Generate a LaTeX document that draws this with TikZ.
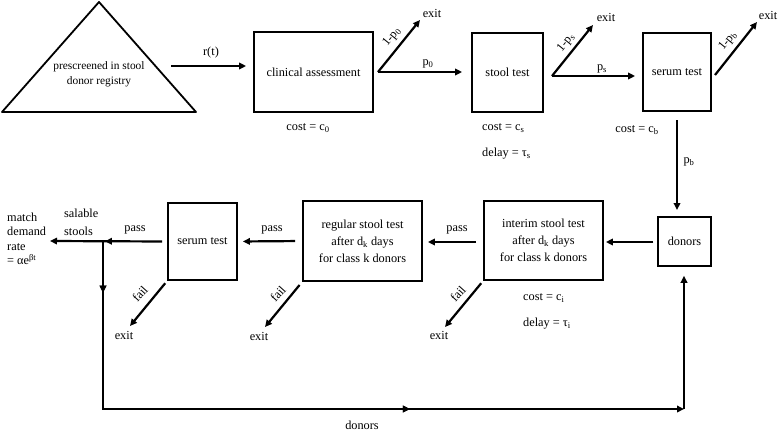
\documentclass[tikz,border=0pt]{standalone}
\usepackage{fontspec}
\setmainfont{Liberation Serif}
\usetikzlibrary{arrows.meta,decorations.markings}
\begin{document}
\begin{tikzpicture}[x=1pt,y=-1pt,
  every node/.style={font=\fontsize{12.3}{17}\selectfont, inner sep=0pt},
  box/.style={draw, line width=1.8pt, align=center},
  arr/.style={line width=2.2pt, -{Triangle[length=7pt,width=6.5pt]}},
  midarr/.style={postaction={decorate}, decoration={markings, mark=at position #1 with {\arrow{Triangle[length=7pt,width=6.5pt]}}}}
]
\useasboundingbox (0,0) rectangle (778,432);

% registry triangle
\draw[line width=1.8pt, line join=round] (99,2) -- (196,112) -- (2,112) -- cycle;
\node[align=center, font=\fontsize{11.4}{15}\selectfont] (reg) at (99,74.5) {prescreened in stool\\donor registry};

% boxes
\node[box, minimum width=119pt, minimum height=80pt] (clin) at (313.5,72) {clinical assessment};
\node[box, minimum width=71pt, minimum height=79pt] (stool) at (507.5,72.5) {stool test};
\node[box, minimum width=68pt, minimum height=78pt] (serum) at (677,72) {serum test};
\node[box, line width=1.5pt, minimum width=53pt, minimum height=49pt] (donors) at (684.5,241.5) {donors};
\node[box, minimum width=119pt, minimum height=79pt] (interim) at (543.5,240.5) {interim stool test\\after d\textsubscript{k} days\\for class k donors};
\node[box, minimum width=119pt, minimum height=80pt] (regular) at (362.5,241) {regular stool test\\after d\textsubscript{k} days\\for class k donors};
\node[box, minimum width=69pt, minimum height=77pt] (serum2) at (202.5,241.5) {serum test};

% coordinates
\coordinate (rs) at (171,66);
\coordinate (A) at (378,72);
\coordinate (B) at (552,76);
\coordinate (C) at (715,75);
\coordinate (e1) at (420,20);
\coordinate (e2) at (593,25);
\coordinate (e3) at (757,22);
\coordinate (pbs) at (677,120);
\coordinate (pbe) at (677,210);
\coordinate (J) at (103,241);
\coordinate (BL) at (103,409);
\coordinate (BR) at (684,409);
\coordinate (f1) at (445,327);
\coordinate (f2) at (265,327);
\coordinate (f3) at (130,326);
\coordinate (out) at (50,241);

% top row arrows
\draw[arr, shorten >=7pt] (rs) -- (rs -| clin.west);
\draw[arr] (A) -- (e1);
\draw[arr, shorten >=9pt] (A) -- (A -| stool.west);
\draw[arr] (B) -- (e2);
\draw[arr, shorten >=7pt] (B) -- (B -| serum.west);
\draw[arr] (C) -- (e3);
\draw[arr] (pbs) -- (pbe);

% bottom row arrows
\draw[arr, shorten <=4pt, shorten >=2pt] (donors.west |- 0,242) -- (interim.east |- 0,242);
\draw[arr, shorten <=7pt, shorten >=5pt] (interim.west |- 0,242) -- (regular.east |- 0,242);
\draw[arr, shorten <=7pt, shorten >=5pt] (regular.west) -- (serum2.east);
\draw[arr, midarr=0.531, shorten <=5pt] (serum2.west) -- (out);
\draw[arr, line join=miter, midarr=0.069, midarr=0.634] (J) -- (BL) -- (BR);
\draw[arr, shorten >=9pt] (BR) -- (donors.south -| BR);

% fail arrows
\draw[arr, shorten <=3pt] (interim.south west) -- (f1);
\draw[arr, shorten <=4pt] (regular.south west) -- (f2);
\draw[arr, shorten <=3pt] (serum2.south west) -- (f3);

% exit labels
\node (x1) at (432,13) {exit};
\node (x2) at (606,17) {exit};
\node (x3) at (768,15) {exit};
\node (x4) at (439,335) {exit};
\node (x5) at (259,336) {exit};
\node (x6) at (124,335) {exit};

% flow labels
\node (lrt) at (211,53) {r(t)};
\node (lp0) at (428,64) {p\textsubscript{0}};
\node (lps) at (602,69) {p\textsubscript{s}};
\node (lpb) at (689,162) {p\textsubscript{b}};
\node[rotate=51] (lq0) at (392,37) {1-p\textsubscript{0}};
\node[rotate=51] (lqs) at (566,43) {1-p\textsubscript{s}};
\node[rotate=51] (lqb) at (728,41) {1-p\textsubscript{b}};
\node[rotate=48] (lf1) at (458,294) {fail};
\node[rotate=48] (lf2) at (278,294) {fail};
\node[rotate=48] (lf3) at (140,294) {fail};
\node (lpa1) at (457,230) {pass};
\node (lpa2) at (272,230) {pass};
\node (lpa3) at (135,230) {pass};
\node (ldon) at (362,425) {donors};

% cost / delay
\node (c0) at (308,128) {cost = c\textsubscript{0}};
\node[anchor=west] (cs) at (482,128) {cost = c\textsubscript{s}};
\node[anchor=west] (ds) at (482,154) {delay = τ\textsubscript{s}};
\node (cb) at (637,130) {cost = c\textsubscript{b}};
\node[anchor=west] (ci) at (523,298) {cost = c\textsubscript{i}};
\node[anchor=west] (di) at (523,324) {delay = τ\textsubscript{i}};

% outputs
\node[align=left, anchor=west, font=\fontsize{12.3}{18}\selectfont] (sal) at (64,222) {salable\\stools};
\node[align=left, anchor=west, font=\fontsize{12.3}{14.5}\selectfont] (mdr) at (7,239) {match\\demand\\rate\\= αe\textsuperscript{βt}};
\end{tikzpicture}
\end{document}
